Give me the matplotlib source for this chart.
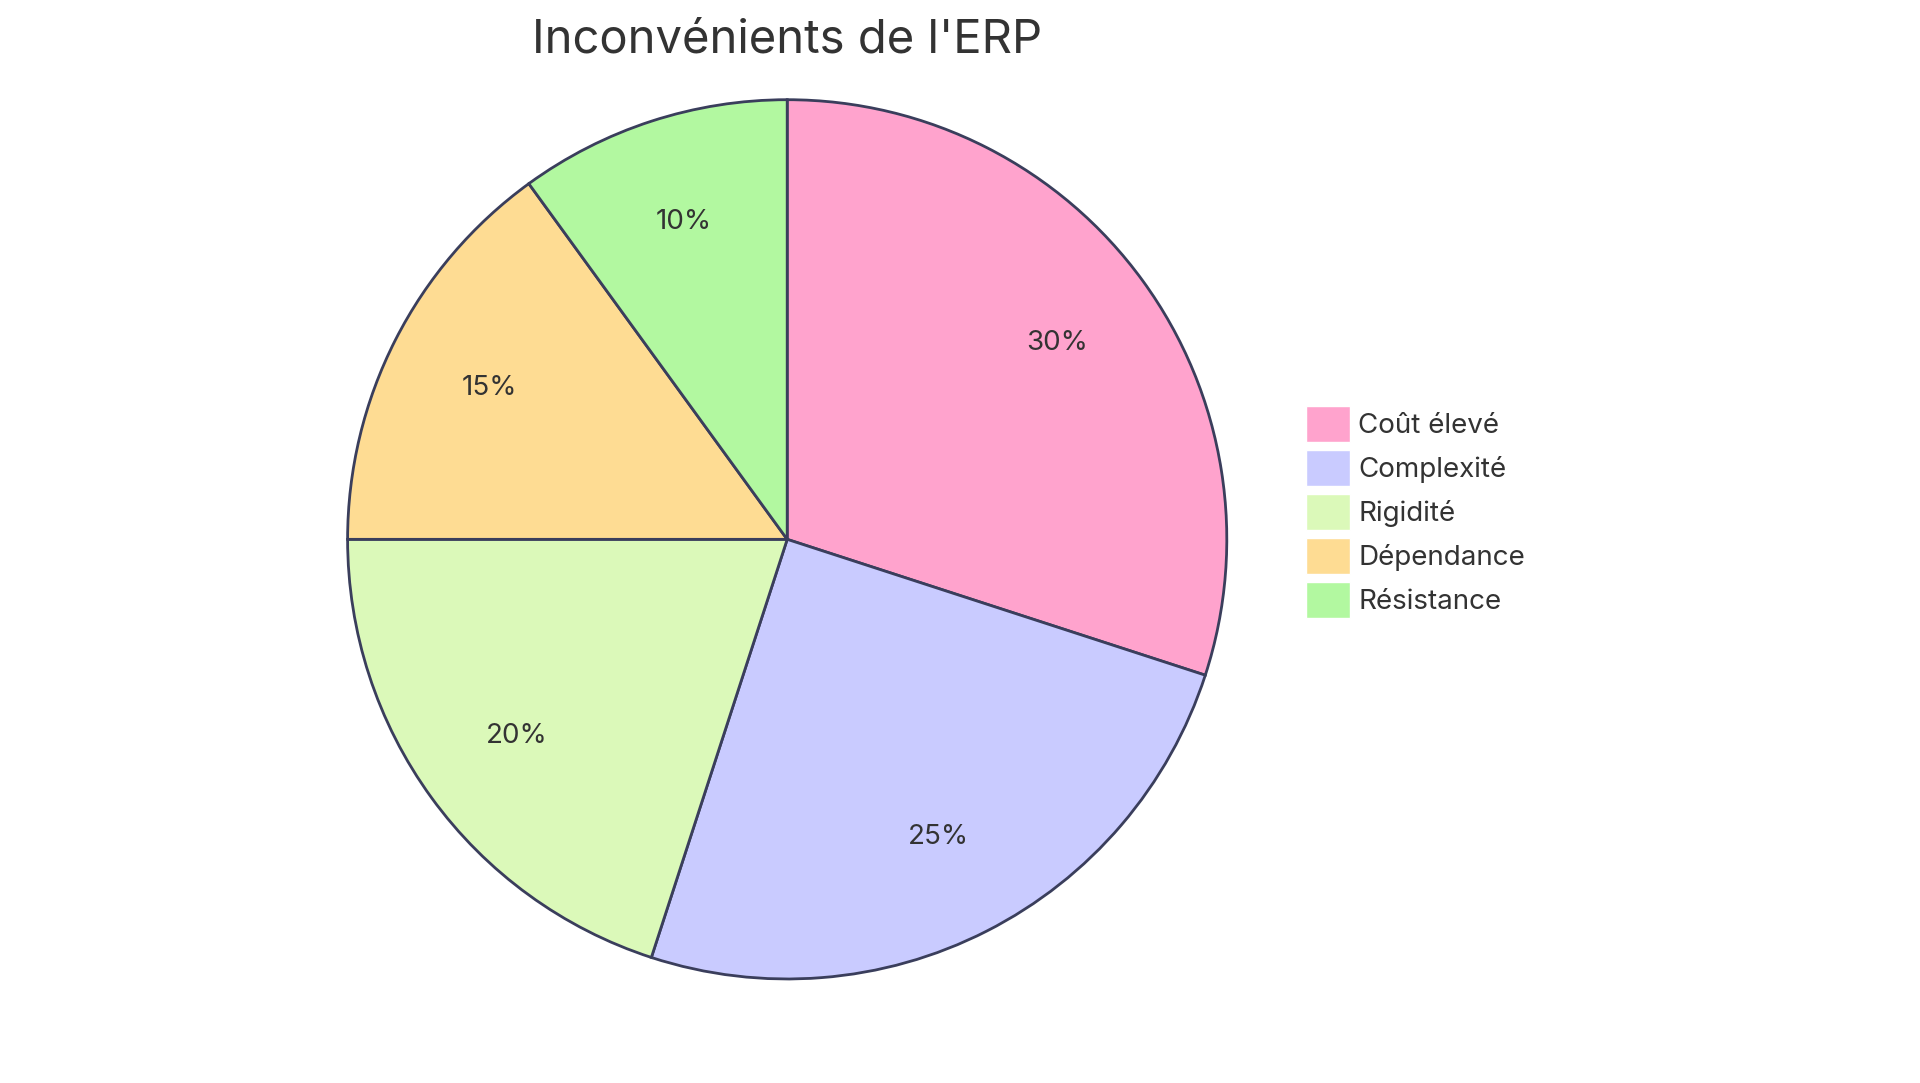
import matplotlib
matplotlib.use("Agg")
import matplotlib.pyplot as plt
from matplotlib.patches import Patch

plt.rcParams['font.family'] = ['Inter', 'DejaVu Sans']

categories = ["Coût élevé", "Complexité", "Rigidité", "Dépendance", "Résistance"]
values = [30, 25, 20, 15, 10]
colors = ["#FFA3CD", "#C9CBFF", "#DBF9B9", "#FEDC93", "#B2F8A0"]
edge = "#3A3E5C"
title = "Inconvénients de l'ERP"

fig = plt.figure(figsize=(19.2, 10.83), dpi=100)
ax = fig.add_axes([0.41 - 0.23125, 0.502 - 0.41, 0.4625, 0.82])
wedges, texts, autotexts = ax.pie(values, colors=colors, startangle=90, counterclock=False,
       autopct='%1.0f%%', pctdistance=0.76,
       wedgeprops=dict(edgecolor=edge, linewidth=2),
       textprops=dict(fontsize=20, color="#333333"))
ax.set_xlim(-1.01, 1.01); ax.set_ylim(-1.01, 1.01)
ax.set_aspect('auto')
ax.axis('off')

fig.text(0.41, 0.963, title, ha='center', va='center', fontsize=34, color="#333333")

handles = [Patch(facecolor=c, edgecolor='white', linewidth=1) for c in colors]
fig.legend(handles, categories, loc='upper left', bbox_to_anchor=(0.680, 0.625),
           frameon=False, fontsize=20, handlelength=1.6, handleheight=1.6,
           labelspacing=0.3, handletextpad=0.3, borderpad=0, borderaxespad=0,
           labelcolor="#333333")

fig.savefig("out.png", dpi=100, facecolor='white')
